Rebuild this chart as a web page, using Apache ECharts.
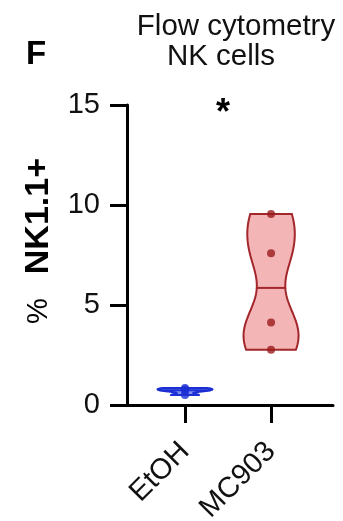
<!DOCTYPE html>
<html><head><meta charset="utf-8">
<script src="https://cdn.jsdelivr.net/npm/echarts@6/dist/echarts.min.js"></script>
<style>html,body{margin:0;padding:0;background:#fff}#c{width:343px;height:521px}</style>
</head><body><div id="c"></div>
<script>
const groups = ['EtOH', 'MC903'];
const etohValues = [0.85, 0.78, 0.70, 0.50];
const mc903Values = [9.55, 7.59, 4.12, 2.76];
const yTicks = [0, 5, 10, 15];
const groupValues = [etohValues, mc903Values];
const fills = ['#7f8ff0', '#f4b5b7'];
const strokes = ['#1b2fd4', '#a3262b'];
const dots = ['#1b2fd4', '#9a1c1c'];

function stats(v) {
  const n = v.length, m = v.reduce((a, b) => a + b, 0) / n;
  const sd = Math.sqrt(v.reduce((a, b) => a + (b - m) * (b - m), 0) / (n - 1));
  const s = v.slice().sort((a, b) => a - b);
  const med = n % 2 ? s[(n - 1) / 2] : (s[n / 2 - 1] + s[n / 2]) / 2;
  return {sd, med, min: s[0], max: s[n - 1]};
}
function kde(v, h, t) {
  return v.reduce((a, x) => a + Math.exp(-(t - x) * (t - x) / (2 * h * h)), 0);
}

const chart = echarts.init(document.getElementById('c'), null, {renderer: 'canvas'});
const HALF = 27.5;
const font = 'Liberation Sans, Arial, sans-serif';

chart.setOption({
  animation: false,
  grid: {left: 127, right: 10, top: 105, bottom: 116, containLabel: false, outerBoundsMode: 'none'},
  title: [
    {text: 'Flow cytometry', left: 231, top: 7, textAlign: 'center',
     textStyle: {fontFamily: font, fontSize: 29.5, fontWeight: 'normal', color: '#111'}},
    {text: 'NK cells', left: 216, top: 37, textAlign: 'center',
     textStyle: {fontFamily: font, fontSize: 29.5, fontWeight: 'normal', color: '#111'}},
    {text: 'F', left: 21, top: 33,
     textStyle: {fontFamily: font, fontSize: 33, fontWeight: 'bold', color: '#000'}}
  ],
  graphic: [
    {type: 'text', left: 22, top: 158, rotation: Math.PI / 2, z: 10,
     style: {text: '{p|%}{b|NK1.1+}', fontFamily: font, fill: '#000',
       rich: {p: {fontFamily: font, fontSize: 29, padding: [0, 24, 0, 0], fill: '#000'},
              b: {fontFamily: font, fontSize: 34, fontWeight: 'bold', fill: '#000'}}}},
    {type: 'text', left: 216, top: 96, z: 10,
     style: {text: '*', fontFamily: font, fontSize: 36, fontWeight: 'bold', fill: '#000'}}
  ],
  xAxis: {
    type: 'value', min: 0.326, max: 2.72,
    axisLine: {show: true, lineStyle: {color: '#000', width: 3}},
    axisTick: {show: true, customValues: [1, 2], length: 18, lineStyle: {color: '#000', width: 3}},
    axisLabel: {customValues: [1, 2], formatter: v => groups[Math.round(v) - 1], rotate: 45,
      margin: 42, fontFamily: font, fontSize: 29, color: '#111'},
    splitLine: {show: false}
  },
  yAxis: {
    type: 'value', min: 0, max: 15, interval: 5,
    axisLine: {show: true, lineStyle: {color: '#000', width: 3}},
    axisTick: {show: true, length: 17, lineStyle: {color: '#000', width: 3}},
    axisLabel: {margin: 27, fontFamily: font, fontSize: 29, color: '#111',
      formatter: v => yTicks.indexOf(v) >= 0 ? String(v) : ''},
    splitLine: {show: false}
  },
  series: [
    {
      type: 'custom',
      data: [[1, 0], [2, 1]],
      z: 2,
      renderItem: function (params, api) {
        const xv = api.value(0), gi = api.value(1);
        const v = groupValues[gi];
        const st = stats(v);
        const h = 0.42 * st.sd;
        const N = 80;
        const ts = [], ds = [];
        for (let i = 0; i <= N; i++) {
          const t = st.min + (st.max - st.min) * i / N;
          ts.push(t); ds.push(kde(v, h, t));
        }
        const dmax = Math.max.apply(null, ds);
        const left = [], right = [];
        for (let i = 0; i <= N; i++) {
          const p = api.coord([xv, ts[i]]);
          const w = ds[i] / dmax * HALF;
          left.push([p[0] - w, p[1]]);
          right.push([p[0] + w, p[1]]);
        }
        const pts = left.concat(right.reverse());
        const pm = api.coord([xv, st.med]);
        const wm = kde(v, h, st.med) / dmax * HALF;
        return {
          type: 'group',
          children: [
            {type: 'polygon', shape: {points: pts},
             style: {fill: fills[gi], stroke: strokes[gi], lineWidth: 2}},
            {type: 'line', shape: {x1: pm[0] - wm, y1: pm[1], x2: pm[0] + wm, y2: pm[1]},
             style: {stroke: strokes[gi], lineWidth: 2}}
          ]
        };
      }
    },
    {type: 'scatter', z: 3, symbolSize: 8, itemStyle: {color: dots[0]},
     data: etohValues.map(v => [1, v])},
    {type: 'scatter', z: 3, symbolSize: 8, itemStyle: {color: dots[1]},
     data: mc903Values.map(v => [2, v])}
  ]
});
</script></body></html>
